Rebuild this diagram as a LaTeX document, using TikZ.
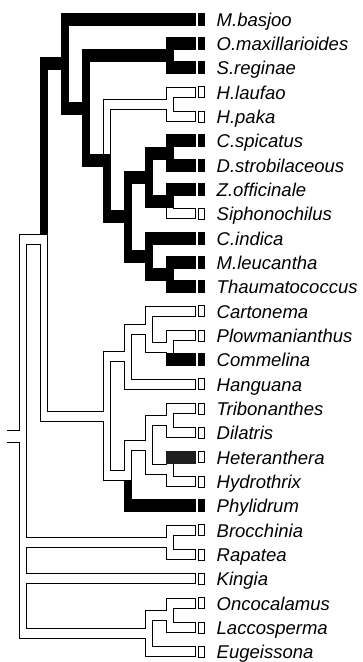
\documentclass[tikz,border=0pt]{standalone}
\usepackage{fontspec}
\setmainfont{Liberation Sans}
\usetikzlibrary{calc}
\colorlet{dk}{black!88}
\newcommand\RowY[1]{19.3+24.33*(#1)}
\newcommand\bvert[3]{\filldraw[#1] ($(#2)+(1,0)$) rectangle ($(#2|-#3)+(7,0)$);}
\newcommand\bhoriz[4]{\filldraw[#1] ($(#3|-#4)+(1,-#2)$) rectangle ($(#4)+(7,#2)$);}
\newcommand\Brn[4]{\DoV{#1}{#3}{#4}\DoH{#2}{#3}{#4}}
\newcommand\Tip[4]{\coordinate (#1) at (187.5,{\RowY{#2}});
  \if k#3\fill ($(#1)+(10,-6.5)$) rectangle ($(#1)+(17.5,6.5)$);
  \else\draw[line width=1pt] ($(#1)+(11,-5.5)$) rectangle ($(#1)+(16.5,5.5)$);\fi
  \node[lab] (l-#1) at ($(#1)+(29,7)$) {#4};}
\newcommand\TreeList{%
 \Brn kk{zing}{musa}\Brn kk{A}{zing}\Brn kk{zing}{bA}\Brn kk{bA}{os}
 \Brn kk{os}{omax}\Brn kk{os}{sreg}\Brn kk{bA}{bB}\Brn ww{bB}{hel}
 \Brn ww{hel}{hlau}\Brn ww{hel}{hpaka}\Brn kk{bB}{bC}\Brn kk{bC}{bD}
 \Brn kk{bD}{cos}\Brn kk{cos}{cspic}\Brn kk{cos}{dstrob}\Brn kk{bD}{zin}
 \Brn kk{zin}{zoff}\Brn ww{zin}{siph}\Brn kk{bC}{bE}\Brn kk{bE}{cind}
 \Brn kk{bE}{mar}\Brn kk{mar}{mleu}\Brn kk{mar}{thaum}
 \Brn ww{root}{A}\Brn ww{A}{com}\Brn ww{com}{c2}\Brn ww{c2}{c1}
 \Brn ww{c1}{cart}\Brn ww{c1}{pc}\Brn ww{pc}{plow}\Brn wk{pc}{comm}
 \Brn ww{c2}{hang}\Brn ww{com}{c3}\Brn ww{c3}{c4}\Brn ww{c4}{td}
 \Brn ww{td}{trib}\Brn ww{td}{dil}\Brn ww{c4}{pon}\Brn wd{pon}{het}
 \Brn ww{pon}{hyd}\Brn kk{c3}{phy}
 \Brn ww{root}{br}\Brn ww{br}{broc}\Brn ww{br}{rap}\Brn ww{root}{king}
 \Brn ww{root}{palm}\Brn ww{palm}{ol}\Brn ww{ol}{onco}\Brn ww{ol}{lacc}
 \Brn ww{palm}{eug}}
\begin{document}
\begin{tikzpicture}[x=1pt,y=-1pt,
  outl/.style={fill=black,draw=black,line width=2pt},
  wf/.style={fill=white,draw=none},
  ck/.style={fill=black,draw=black,line width=2pt},
  cd/.style={fill=dk,draw=dk,line width=2pt},
  lab/.style={anchor=base west,inner sep=0pt,font=\fontsize{18.5}{20}\selectfont\itshape}]
\useasboundingbox (0,0) rectangle (362,662);
% tips
\Tip{musa}{0}{k}{M.basjoo}
\Tip{omax}{1}{k}{O.maxillarioides}
\Tip{sreg}{2}{k}{S.reginae}
\Tip{hlau}{3}{w}{H.laufao}
\Tip{hpaka}{4}{w}{H.paka}
\Tip{cspic}{5}{k}{C.spicatus}
\Tip{dstrob}{6}{k}{D.strobilaceous}
\Tip{zoff}{7}{k}{Z.officinale}
\Tip{siph}{8}{w}{Siphonochilus}
\Tip{cind}{9}{k}{C.indica}
\Tip{mleu}{10}{k}{M.leucantha}
\Tip{thaum}{11}{k}{Thaumatococcus}
\Tip{cart}{12}{w}{Cartonema}
\Tip{plow}{13}{w}{Plowmanianthus}
\Tip{comm}{14}{k}{Commelina}
\Tip{hang}{15}{w}{Hanguana}
\Tip{trib}{16}{w}{Tribonanthes}
\Tip{dil}{17}{w}{Dilatris}
\Tip{het}{18}{w}{Heteranthera}
\Tip{hyd}{19}{w}{Hydrothrix}
\Tip{phy}{20}{k}{Phylidrum}
\Tip{broc}{21}{w}{Brocchinia}
\Tip{rap}{22}{w}{Rapatea}
\Tip{king}{23}{w}{Kingia}
\Tip{onco}{24}{w}{Oncocalamus}
\Tip{lacc}{25}{w}{Laccosperma}
\Tip{eug}{26}{w}{Eugeissona}
% internal nodes
\coordinate (zing) at (61,{\RowY{1.828125}});
\coordinate (bA) at (82,{\RowY{3.65625}});
\coordinate (bB) at (103,{\RowY{5.8125}});
\coordinate (bC) at (124,{\RowY{8.125}});
\coordinate (bD) at (145,{\RowY{6.5}});
\coordinate (bE) at (145,{\RowY{9.75}});
\coordinate (os) at (166,{\RowY{1.5}});
\coordinate (hel) at (166,{\RowY{3.5}});
\coordinate (cos) at (166,{\RowY{5.5}});
\coordinate (zin) at (166,{\RowY{7.5}});
\coordinate (mar) at (166,{\RowY{10.5}});
\coordinate (A) at (40,{\RowY{9.0703125}});
\coordinate (com) at (103,{\RowY{16.3125}});
\coordinate (c2) at (124,{\RowY{13.875}});
\coordinate (c1) at (145,{\RowY{12.75}});
\coordinate (pc) at (166,{\RowY{13.5}});
\coordinate (c3) at (124,{\RowY{18.75}});
\coordinate (c4) at (145,{\RowY{17.5}});
\coordinate (td) at (166,{\RowY{16.5}});
\coordinate (pon) at (166,{\RowY{18.5}});
\coordinate (root) at (19,{\RowY{17.16015625}});
\coordinate (br) at (166,{\RowY{21.5}});
\coordinate (palm) at (145,{\RowY{25.25}});
\coordinate (ol) at (166,{\RowY{24.5}});
% pass 1: outlines
\def\DoV#1#2#3{\bvert{outl}{#2}{#3}}
\def\DoH#1#2#3{\if w#1\def\hc{4.5}\else\def\hc{5.5}\fi\bhoriz{outl}{\hc}{#2}{#3}}
\TreeList
\draw[line width=1pt] ($(root)+(-12,-6)$) -- ($(root)+(1,-6)$);
\draw[line width=1pt] ($(root)+(-12,6)$) -- ($(root)+(1,6)$);
% pass 2: white verticals
\def\DoV#1#2#3{\if w#1\bvert{wf}{#2}{#3}\fi}
\def\DoH#1#2#3{}
\TreeList
% pass 3: dark verticals
\def\DoV#1#2#3{\if w#1\else\bvert{c#1}{#2}{#3}\fi}
\TreeList
% pass 4: white horizontals
\def\DoV#1#2#3{}
\def\DoH#1#2#3{\if w#1\bhoriz{wf}{4.5}{#2}{#3}\fi}
\TreeList
\fill[white] ($(root)+(-12,-5.5)$) rectangle ($(root)+(7,5.5)$);
% pass 5: dark horizontals
\def\DoH#1#2#3{\if w#1\else\bhoriz{c#1}{5.5}{#2}{#3}\fi}
\TreeList
\end{tikzpicture}
\end{document}
